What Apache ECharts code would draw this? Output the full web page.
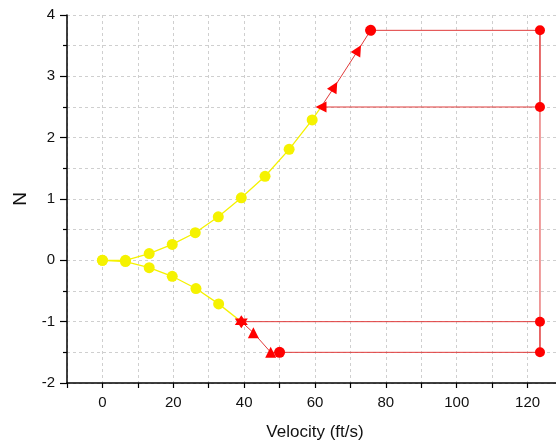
<!DOCTYPE html>
<html><head><meta charset="utf-8">
<script src="https://cdn.jsdelivr.net/npm/echarts@6/dist/echarts.min.js"></script>
<style>html,body{margin:0;padding:0;background:#fff;overflow:hidden;width:556px;height:446px}#c{width:566px;height:446px}</style>
</head><body><div id="c"></div>
<script>
// Yellow branches
var upperVel = [0, 6.5, 13.2, 19.7, 26.2, 32.7, 39.2, 45.9, 52.7, 59.2, 61.7];
var upperN   = [0, 0.0, 0.11, 0.26, 0.45, 0.71, 1.02, 1.37, 1.81, 2.29, 2.5];
var lowerVel = [0, 6.5, 13.2, 19.7, 26.4, 32.8, 39.2];
var lowerN   = [0, -0.02, -0.12, -0.26, -0.46, -0.71, -1.0];
// Red segments
var redUpVel = [61.7, 65.5, 72.2, 75.7];
var redUpN   = [2.5, 2.83, 3.43, 3.75];
var redLoVel = [39.2, 42.6, 47.5, 50.0];
var redLoN   = [-1.0, -1.18, -1.5, -1.5];
var rightVel = 123.5;
var rightN   = [3.75, 2.5, -1.0, -1.5];

function pairs(xs, ys){ return xs.map(function(x,i){return [x, ys[i]];}); }

var yellow = '#f5f200', red = '#ff0000', redLine = '#e03a3a';
var font = '"Liberation Sans", Arial, sans-serif';
var hexagram = 'path://M0,-10 L2.89,-5 L8.66,-5 L5.77,0 L8.66,5 L2.89,5 L0,10 L-2.89,5 L-8.66,5 L-5.77,0 L-8.66,-5 L-2.89,-5 Z';

var series = [];
series.push({type:'line', data:pairs(upperVel.slice(0,-1), upperN.slice(0,-1)), symbol:'circle', symbolSize:11,
  lineStyle:{color:yellow, width:1.3}, itemStyle:{color:yellow}, z:2});
series.push({type:'line', data:pairs(upperVel.slice(-2), upperN.slice(-2)), symbol:'none',
  lineStyle:{color:yellow, width:1.3}, z:2});
series.push({type:'line', data:pairs(lowerVel.slice(0,-1), lowerN.slice(0,-1)), symbol:'circle', symbolSize:11,
  lineStyle:{color:yellow, width:1.3}, itemStyle:{color:yellow}, z:2});
series.push({type:'line', data:pairs(lowerVel.slice(-2), lowerN.slice(-2)), symbol:'none',
  lineStyle:{color:yellow, width:1.3}, z:2});

// red upper curve
var upData = pairs(redUpVel, redUpN).map(function(p,i,arr){
  return {value:p, symbol: i===arr.length-1 ? 'circle' : 'triangle', symbolRotate: i===0 ? 90 : -30};
});
series.push({type:'line', data:upData, symbolSize:11, lineStyle:{color:redLine, width:1}, itemStyle:{color:red}, z:3});
// top rectangle
series.push({type:'line', data:[[redUpVel[3], redUpN[3]], [rightVel, rightN[0]], [rightVel, rightN[1]], [redUpVel[0], redUpN[0]]],
  symbol:'none', lineStyle:{color:redLine, width:1}, z:3});
// right vertical
series.push({type:'line', data:rightN.map(function(n){return [rightVel, n];}), symbol:'circle', symbolSize:10,
  lineStyle:{color:redLine, width:1}, itemStyle:{color:red}, z:3});
// lower red curve
var loData = pairs(redLoVel, redLoN).map(function(p,i,arr){
  return {value:p, symbol: i===arr.length-1 ? 'circle' : 'triangle', symbolSize: 11};
});
loData[0].symbol = hexagram;
loData[0].symbolSize = 13;
series.push({type:'line', data:loData, lineStyle:{color:redLine, width:1}, itemStyle:{color:red}, z:3});
// lower rectangle
series.push({type:'line', data:[[redLoVel[3], redLoN[3]], [rightVel, rightN[3]], [rightVel, rightN[2]], [redLoVel[0], redLoN[0]]],
  symbol:'none', lineStyle:{color:redLine, width:1}, z:3});

var chart = echarts.init(document.getElementById('c'));
chart.setOption({
  animation:false,
  backgroundColor:'#fff',
  grid:{left:67, top:15, height:371, right:0, containLabel:false},
  xAxis:{type:'value', min:-10, max:130, interval:10,
    name:'Velocity (ft/s)', nameLocation:'middle', nameGap:41,
    nameTextStyle:{fontFamily:font, fontSize:17, color:'#111'},
    axisLine:{onZero:false, lineStyle:{color:'#000', width:1.5}},
    axisTick:{show:true, length:5, lineStyle:{color:'#000', width:1.2}},
    axisLabel:{fontFamily:font, fontSize:15, color:'#111', margin:12,
      formatter:function(v){ return (v % 20 === 0 && v >= 0 && v <= 120) ? String(v) : ''; }},
    splitLine:{show:true, lineStyle:{color:'#cfcfcf', type:[3,3], width:1}}
  },
  yAxis:{type:'value', min:-2, max:4, interval:1,
    name:'N', nameLocation:'middle', nameGap:35,
    nameTextStyle:{fontFamily:font, fontSize:19, color:'#111'},
    axisLine:{show:true, onZero:false, lineStyle:{color:'#000', width:1.5}},
    axisTick:{show:true, length:7, lineStyle:{color:'#000', width:1.2}},
    minorTick:{show:true, splitNumber:2, length:4, lineStyle:{color:'#000', width:1.2}},
    axisLabel:{fontFamily:font, fontSize:15, color:'#111', margin:12},
    splitLine:{show:true, lineStyle:{color:'#cfcfcf', type:[3,3], width:1}},
    minorSplitLine:{show:true, lineStyle:{color:'#cfcfcf', type:[3,3], width:1}}
  },
  series:series
});
</script></body></html>
